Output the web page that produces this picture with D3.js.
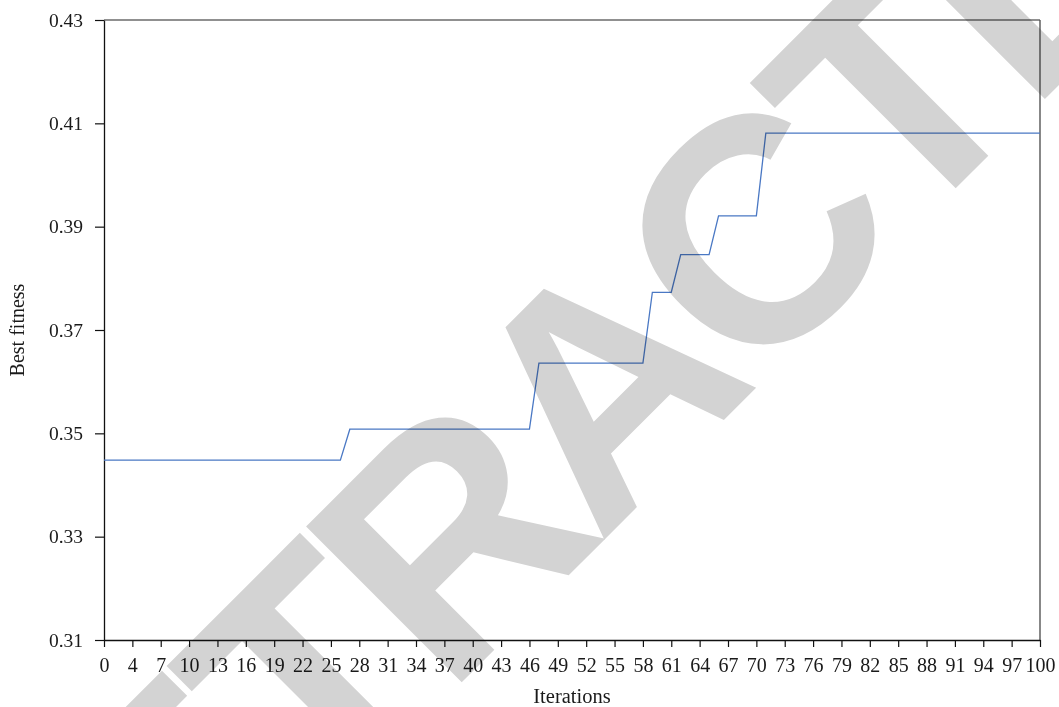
<!DOCTYPE html>
<html>
<head>
<meta charset="utf-8">
<script src="https://cdn.jsdelivr.net/npm/d3@7"></script>
<style>
  html, body { margin: 0; padding: 0; background: #ffffff; }
  svg { display: block; }
</style>
</head>
<body>
<svg id="chart" width="1059" height="707"></svg>
<script>
// Best fitness value recorded at each generation step (100 steps)
const bestFitness = [
  0.3448, 0.3448, 0.3448, 0.3448, 0.3448, 0.3448, 0.3448, 0.3448, 0.3448, 0.3448,
  0.3448, 0.3448, 0.3448, 0.3448, 0.3448, 0.3448, 0.3448, 0.3448, 0.3448, 0.3448,
  0.3448, 0.3448, 0.3448, 0.3448, 0.3448, 0.3448, 0.3508, 0.3508, 0.3508, 0.3508,
  0.3508, 0.3508, 0.3508, 0.3508, 0.3508, 0.3508, 0.3508, 0.3508, 0.3508, 0.3508,
  0.3508, 0.3508, 0.3508, 0.3508, 0.3508, 0.3508, 0.3636, 0.3636, 0.3636, 0.3636,
  0.3636, 0.3636, 0.3636, 0.3636, 0.3636, 0.3636, 0.3636, 0.3636, 0.3773, 0.3773,
  0.3773, 0.3846, 0.3846, 0.3846, 0.3846, 0.3921, 0.3921, 0.3921, 0.3921, 0.3921,
  0.4081, 0.4081, 0.4081, 0.4081, 0.4081, 0.4081, 0.4081, 0.4081, 0.4081, 0.4081,
  0.4081, 0.4081, 0.4081, 0.4081, 0.4081, 0.4081, 0.4081, 0.4081, 0.4081, 0.4081,
  0.4081, 0.4081, 0.4081, 0.4081, 0.4081, 0.4081, 0.4081, 0.4081, 0.4081, 0.4081
];

// Category labels shown on every third step
const xTickLabels = [
  "0", "4", "7", "10", "13", "16", "19", "22", "25", "28", "31", "34",
  "37", "40", "43", "46", "49", "52", "55", "58", "61", "64", "67", "70",
  "73", "76", "79", "82", "85", "88", "91", "94", "97", "100"
];

const yTicks = [0.31, 0.33, 0.35, 0.37, 0.39, 0.41, 0.43];
const yDomain = [0.31, 0.43];

const xTitle = "Iterations";
const yTitle = "Best fitness";
const stampText = "RETRACTED";

const svg = d3.select("#chart");
const margin = { left: 104, right: 19, top: 20, bottom: 67 };
const W = 1059, H = 707;
const innerW = W - margin.left - margin.right;
const innerH = H - margin.top - margin.bottom;

const x = d3.scaleLinear()
  .domain([0, bestFitness.length - 1])
  .range([margin.left, margin.left + innerW]);

const y = d3.scaleLinear()
  .domain(yDomain)
  .range([margin.top + innerH, margin.top]);

const serif = "'Liberation Serif', 'Times New Roman', serif";

// Frame: top and right borders
svg.append("line")
  .attr("x1", x.range()[0]).attr("x2", x.range()[1])
  .attr("y1", y.range()[1]).attr("y2", y.range()[1])
  .attr("stroke", "#222").attr("stroke-width", 1.2);
svg.append("line")
  .attr("x1", x.range()[1]).attr("x2", x.range()[1])
  .attr("y1", y.range()[0]).attr("y2", y.range()[1])
  .attr("stroke", "#555").attr("stroke-width", 1.4);

// X axis: one tick every third step
const xTickIdx = xTickLabels.map((_, i) => i * 3);
const xAxis = d3.axisBottom(x)
  .tickValues(xTickIdx)
  .tickFormat((d, i) => xTickLabels[i])
  .tickSize(7)
  .tickSizeOuter(0)
  .tickPadding(11);

const gx = svg.append("g")
  .attr("transform", `translate(0,${y.range()[0]})`)
  .call(xAxis);

// Y axis
const yAxis = d3.axisLeft(y)
  .tickValues(yTicks)
  .tickFormat(d3.format(".2f"))
  .tickSize(9)
  .tickSizeOuter(0)
  .tickPadding(12);

const gy = svg.append("g")
  .attr("transform", `translate(${x.range()[0]},0)`)
  .call(yAxis);

[gx, gy].forEach(g => {
  g.select(".domain").attr("stroke", "#111").attr("stroke-width", 1.3);
  g.selectAll(".tick line").attr("stroke", "#111").attr("stroke-width", 1.2);
  g.selectAll(".tick text")
    .attr("fill", "#1a1a1a")
    .style("font-family", serif);
});
gx.selectAll(".tick text").style("font-size", "20px");
gy.selectAll(".tick text").style("font-size", "19.5px");

// Axis titles
svg.append("text")
  .attr("x", (x.range()[0] + x.range()[1]) / 2)
  .attr("y", 703)
  .attr("text-anchor", "middle")
  .style("font-family", serif)
  .style("font-size", "20.5px")
  .attr("fill", "#1a1a1a")
  .text(xTitle);

svg.append("text")
  .attr("transform", `translate(24,${(y.range()[0] + y.range()[1]) / 2}) rotate(-90)`)
  .attr("text-anchor", "middle")
  .style("font-family", serif)
  .style("font-size", "20px")
  .attr("fill", "#1a1a1a")
  .text(yTitle);

// Step line of best fitness
const line = d3.line()
  .x((d, i) => x(i))
  .y(d => y(d));

svg.append("path")
  .datum(bestFitness)
  .attr("fill", "none")
  .attr("stroke", "#4a78c4")
  .attr("stroke-width", 1.3)
  .attr("d", line);

// Diagonal stamp across the whole figure, multiplied over the chart
svg.append("text")
  .attr("transform", "translate(28,1116) rotate(-45)")
  .attr("text-anchor", "start")
  .style("font-family", "'Liberation Sans', Arial, sans-serif")
  .style("font-weight", "bold")
  .style("font-size", "320px")
  .style("letter-spacing", "-16px")
  .style("mix-blend-mode", "multiply")
  .attr("fill", "#d3d3d3")
  .text(stampText);
</script>
</body>
</html>
